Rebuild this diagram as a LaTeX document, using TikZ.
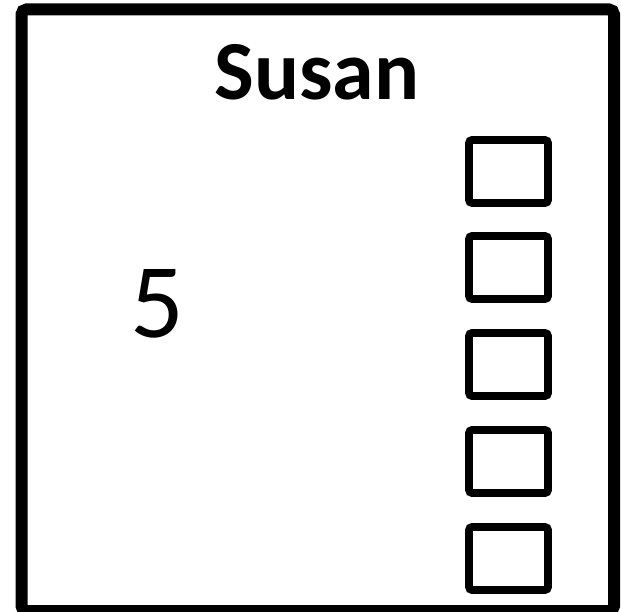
\documentclass[tikz,border=0pt]{standalone}
\usepackage{fontspec}
\setmainfont{Carlito}
\begin{document}
\begin{tikzpicture}[x=1pt,y=1pt,
  outerbox/.style={draw=black,line width=12pt,rounded corners=5pt},
  tickbox/.style={draw=black,line width=7.7pt,rounded corners=3pt,minimum width=79pt,minimum height=63pt,inner sep=0pt}]
\useasboundingbox (0,0) rectangle (621,611);
\path[outerbox] (21.5,0) rectangle (614,601.5);
\node[anchor=base,font=\bfseries\fontsize{84}{90}\selectfont,inner sep=0pt] (title) at (317,511) {Susan};
\node[anchor=base,font=\fontsize{106}{120}\selectfont,inner sep=0pt] (num) at (157.5,273) {5};
\node[tickbox] (b1) at (508.5,439.5) {};
\node[tickbox] (b2) at (508.5,343.5) {};
\node[tickbox] (b3) at (508.5,246.5) {};
\node[tickbox] (b4) at (508.5,149.5) {};
\node[tickbox] (b5) at (508.5,52.5) {};
\end{tikzpicture}
\end{document}
